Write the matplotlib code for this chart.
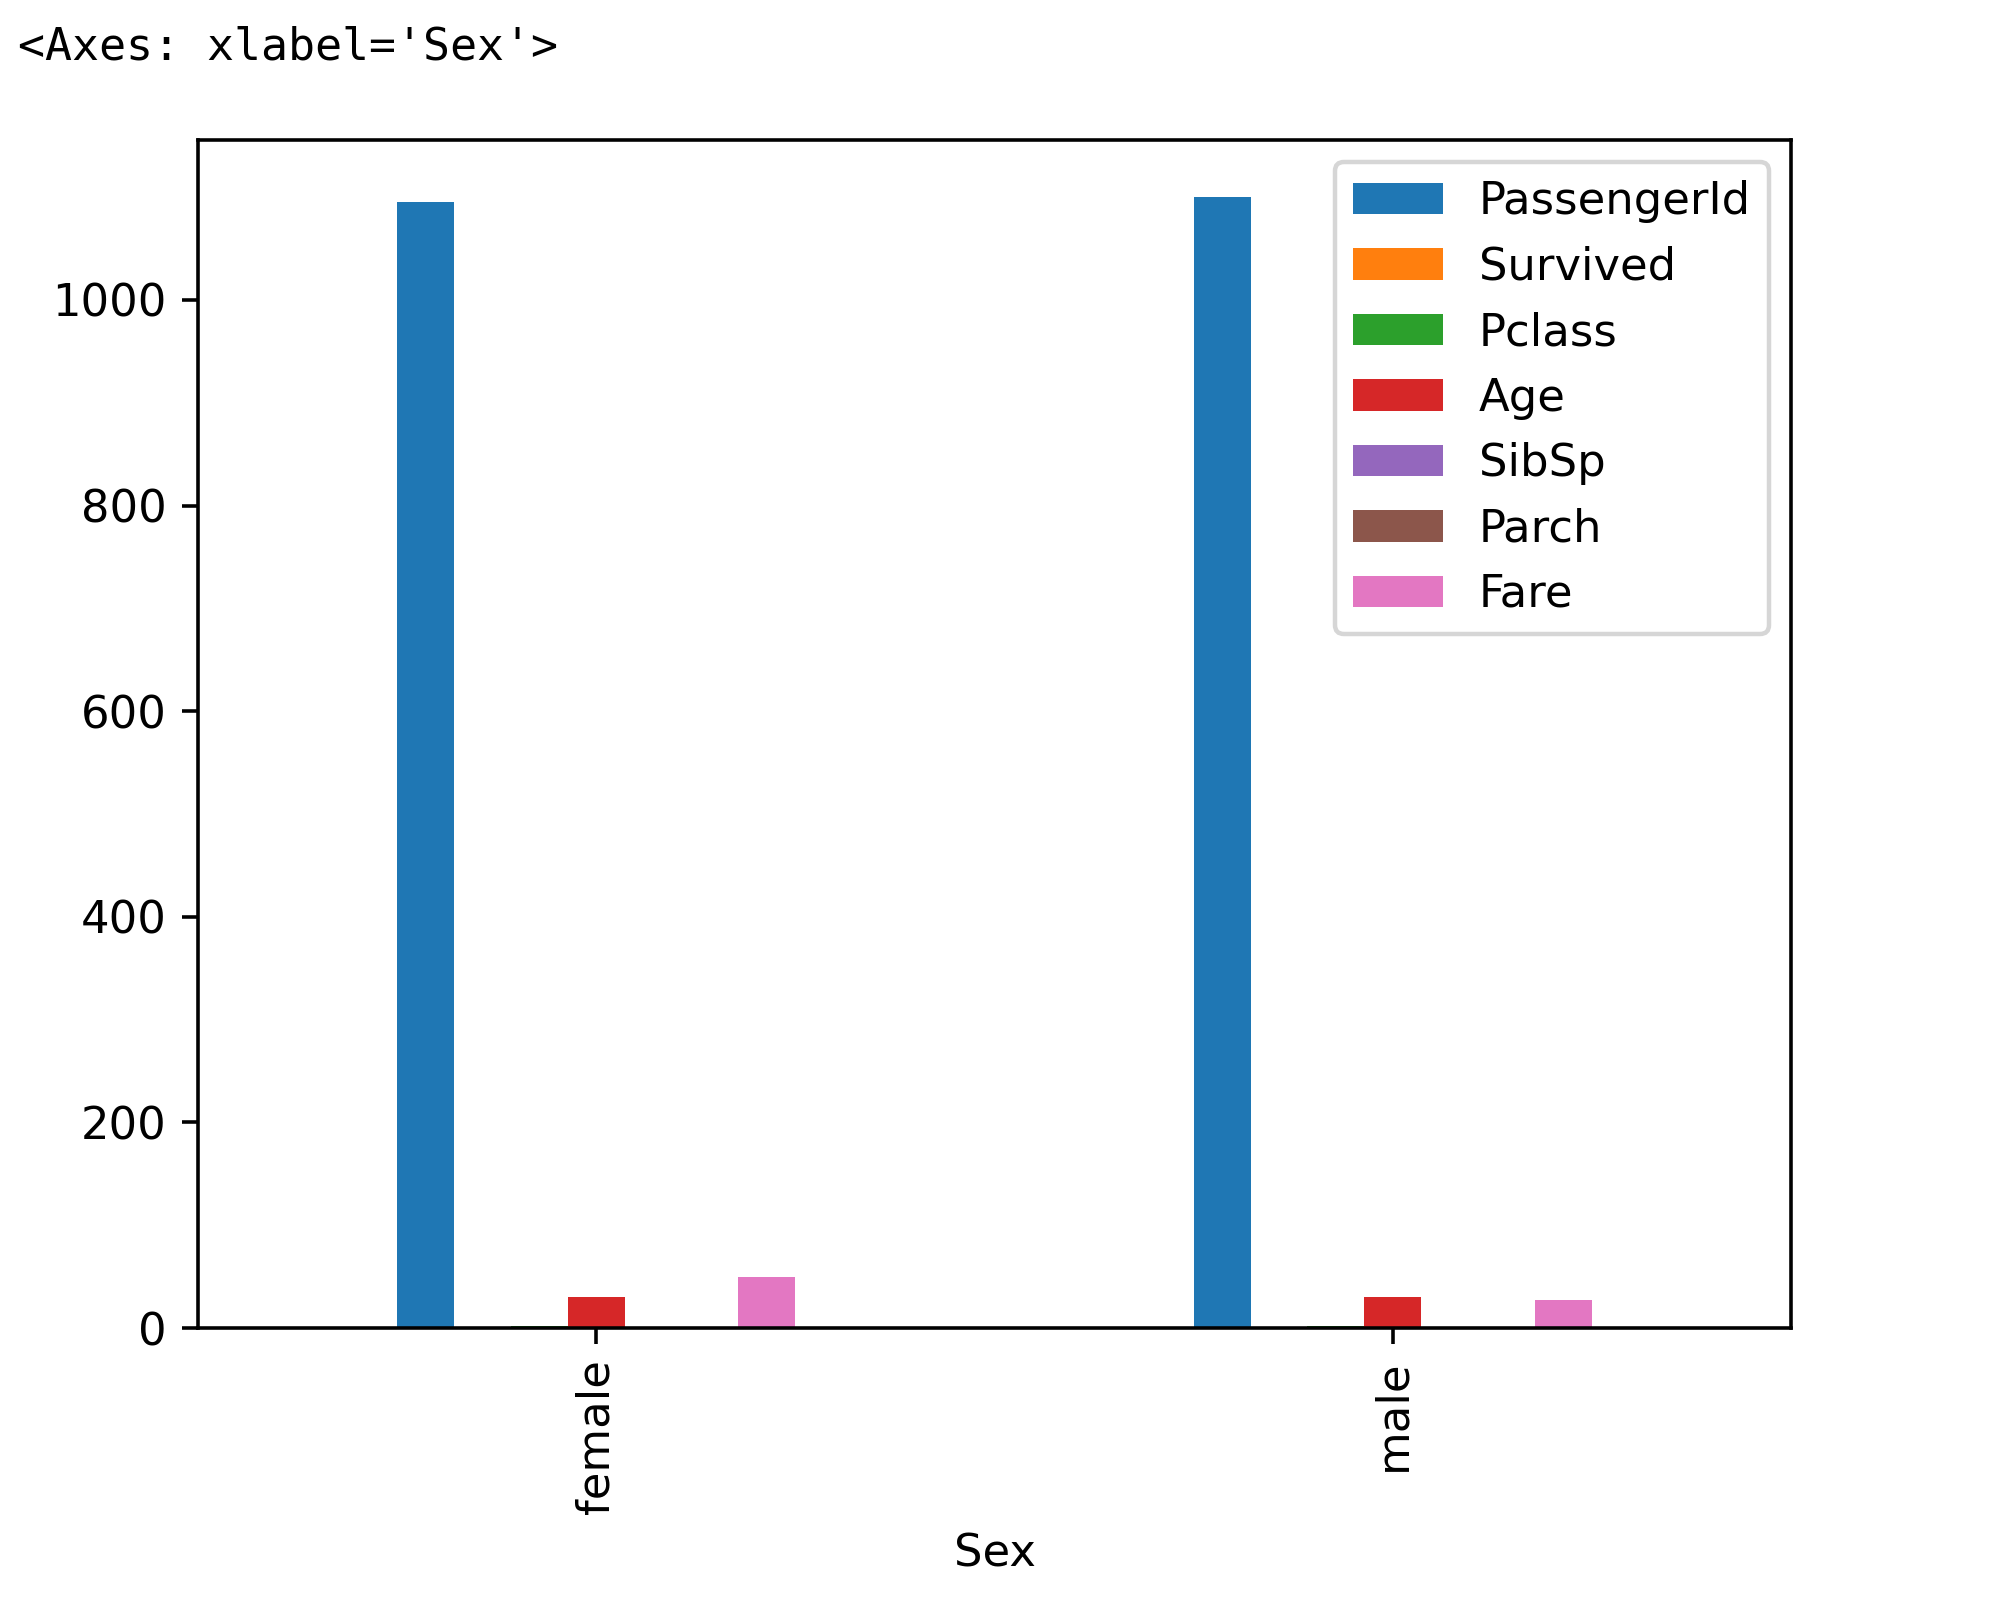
import matplotlib
matplotlib.use("Agg")
import matplotlib.pyplot as plt
import pandas as pd

categories = ["female", "male"]
passenger_id = [1095.0, 1100.5]
survived = [1.0, 0.0]
pclass = [2.14, 2.33]
age = [30.27, 30.27]
sibsp = [0.57, 0.38]
parch = [0.60, 0.27]
fare = [49.75, 27.53]

df = pd.DataFrame(
    {
        "PassengerId": passenger_id,
        "Survived": survived,
        "Pclass": pclass,
        "Age": age,
        "SibSp": sibsp,
        "Parch": parch,
        "Fare": fare,
    },
    index=pd.Index(categories, name="Sex"),
)

DPI = 323
fig = plt.figure(figsize=(2000 / DPI, 1611 / DPI), dpi=DPI)
ax = fig.add_axes([198 / 2000, 1 - 1328 / 1611, (1791 - 198) / 2000, (1328 - 140) / 1611])
df.plot(kind="bar", ax=ax)

fig.text(18 / 2000, 1 - 60 / 1611, "<Axes: xlabel='Sex'>", family="DejaVu Sans Mono",
         fontsize=10, va="baseline", ha="left")

fig.savefig("out.png", dpi=DPI)
